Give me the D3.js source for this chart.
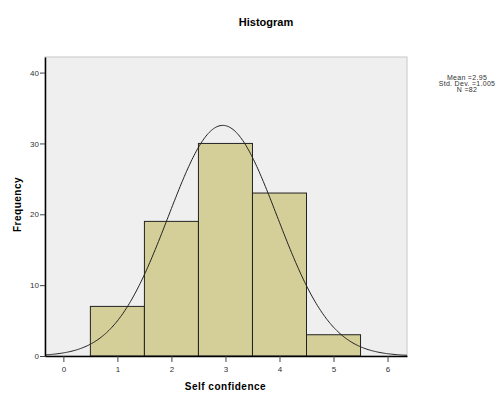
<!DOCTYPE html>
<html>
<head>
<meta charset="utf-8">
<script src="https://cdn.jsdelivr.net/npm/d3@7"></script>
<style>
  body { margin: 0; background: #fff; }
  text { font-family: "Liberation Sans", Arial, sans-serif; }
</style>
</head>
<body>
<svg id="drawing_region"></svg>
<script>
// histogram bins (Self confidence score) and counts
var bin_centers = [1, 2, 3, 4, 5];
var counts = [7, 19, 30, 23, 3];
var x_ticks = [0, 1, 2, 3, 4, 5, 6];
var y_ticks = [0, 10, 20, 30, 40];
// stats shown in the legend
var stat_mean = 2.95;
var stat_sd = 1.005;
var stat_n = 82;

var config = {
    width: 504,
    height: 394,
    margin: {top: 57, right: 97, bottom: 38, left: 45}
};

var svg = d3.select('#drawing_region')
    .attr('width', config.width)
    .attr('height', config.height);

var inner_width = config.width - config.margin.left - config.margin.right;
var inner_height = config.height - config.margin.top - config.margin.bottom;

var chart = svg.append('g')
    .attr('transform', `translate(${config.margin.left}, ${config.margin.top})`);

var xscale = d3.scaleLinear()
    .domain([-0.34, 6.36])
    .range([0, inner_width]);

var yscale = d3.scaleLinear()
    .domain([0, 42.2])
    .range([inner_height, 0]);

// plot background
chart.append('rect')
    .attr('x', 0)
    .attr('y', 0)
    .attr('width', inner_width)
    .attr('height', inner_height)
    .attr('fill', '#efefef')
    .attr('stroke', '#c8c8c8')
    .attr('stroke-width', 1);

// bars
chart.selectAll('.bar')
    .data(bin_centers)
    .join('rect')
    .attr('class', 'bar')
    .attr('x', d => xscale(d - 0.5))
    .attr('y', (d, i) => yscale(counts[i]))
    .attr('width', d => xscale(d + 0.5) - xscale(d - 0.5))
    .attr('height', (d, i) => yscale(0) - yscale(counts[i]))
    .attr('fill', '#d4ce98')
    .attr('stroke', '#222')
    .attr('stroke-width', 1);

// fitted normal curve: n * binwidth * pdf(x)
var curve_x = d3.range(-0.34, 6.37, 0.02);
var line = d3.line()
    .x(d => xscale(d))
    .y(d => yscale(stat_n * Math.exp(-0.5 * Math.pow((d - stat_mean) / stat_sd, 2)) / (stat_sd * Math.sqrt(2 * Math.PI))))
    .curve(d3.curveBasis);

chart.append('path')
    .datum(curve_x)
    .attr('d', line)
    .attr('fill', 'none')
    .attr('stroke', '#222')
    .attr('stroke-width', 1);

// axes
var xaxis = d3.axisBottom(xscale)
    .tickValues(x_ticks)
    .tickFormat(d3.format('d'))
    .tickSize(6)
    .tickSizeOuter(0);

var yaxis = d3.axisLeft(yscale)
    .tickValues(y_ticks)
    .tickFormat(d3.format('d'))
    .tickSize(5)
    .tickSizeOuter(0);

var xaxis_group = chart.append('g')
    .attr('transform', `translate(0, ${inner_height})`)
    .call(xaxis);

var yaxis_group = chart.append('g')
    .call(yaxis);

xaxis_group.select('.domain').attr('stroke', '#000').attr('stroke-width', 1.5);
yaxis_group.select('.domain').attr('stroke', '#000').attr('stroke-width', 1.5);
xaxis_group.selectAll('.tick line').attr('stroke', '#444');
yaxis_group.selectAll('.tick line').attr('stroke', '#444');
xaxis_group.selectAll('.tick text')
    .attr('font-size', '8px')
    .attr('fill', '#333')
    .attr('dy', '0.9em');
yaxis_group.selectAll('.tick text')
    .attr('font-size', '8px')
    .attr('fill', '#333')
    .attr('x', -6);

// axis titles
svg.append('text')
    .attr('x', config.margin.left + xscale(3))
    .attr('y', 390)
    .attr('text-anchor', 'middle')
    .attr('font-size', '10px')
    .attr('font-weight', 'bold')
    .attr('letter-spacing', '0.5px')
    .text('Self confidence');

svg.append('text')
    .attr('transform', `translate(21, ${config.margin.top + inner_height / 2 - 2}) rotate(-90)`)
    .attr('text-anchor', 'middle')
    .attr('font-size', '10px')
    .attr('font-weight', 'bold')
    .attr('letter-spacing', '0.5px')
    .text('Frequency');

// title
svg.append('text')
    .attr('x', 266)
    .attr('y', 26)
    .attr('text-anchor', 'middle')
    .attr('font-size', '11px')
    .attr('font-weight', 'bold')
    .text('Histogram');

// legend with stats
var legend_lines = ['Mean =' + stat_mean.toFixed(2), 'Std. Dev. =' + stat_sd.toFixed(3), 'N =' + stat_n];
svg.selectAll('.legend')
    .data(legend_lines)
    .join('text')
    .attr('class', 'legend')
    .attr('x', 467)
    .attr('y', (d, i) => 80 + i * 6)
    .attr('text-anchor', 'middle')
    .attr('font-size', '7px')
    .attr('letter-spacing', '0.3px')
    .attr('fill', '#333')
    .text(d => d);
</script>
</body>
</html>
